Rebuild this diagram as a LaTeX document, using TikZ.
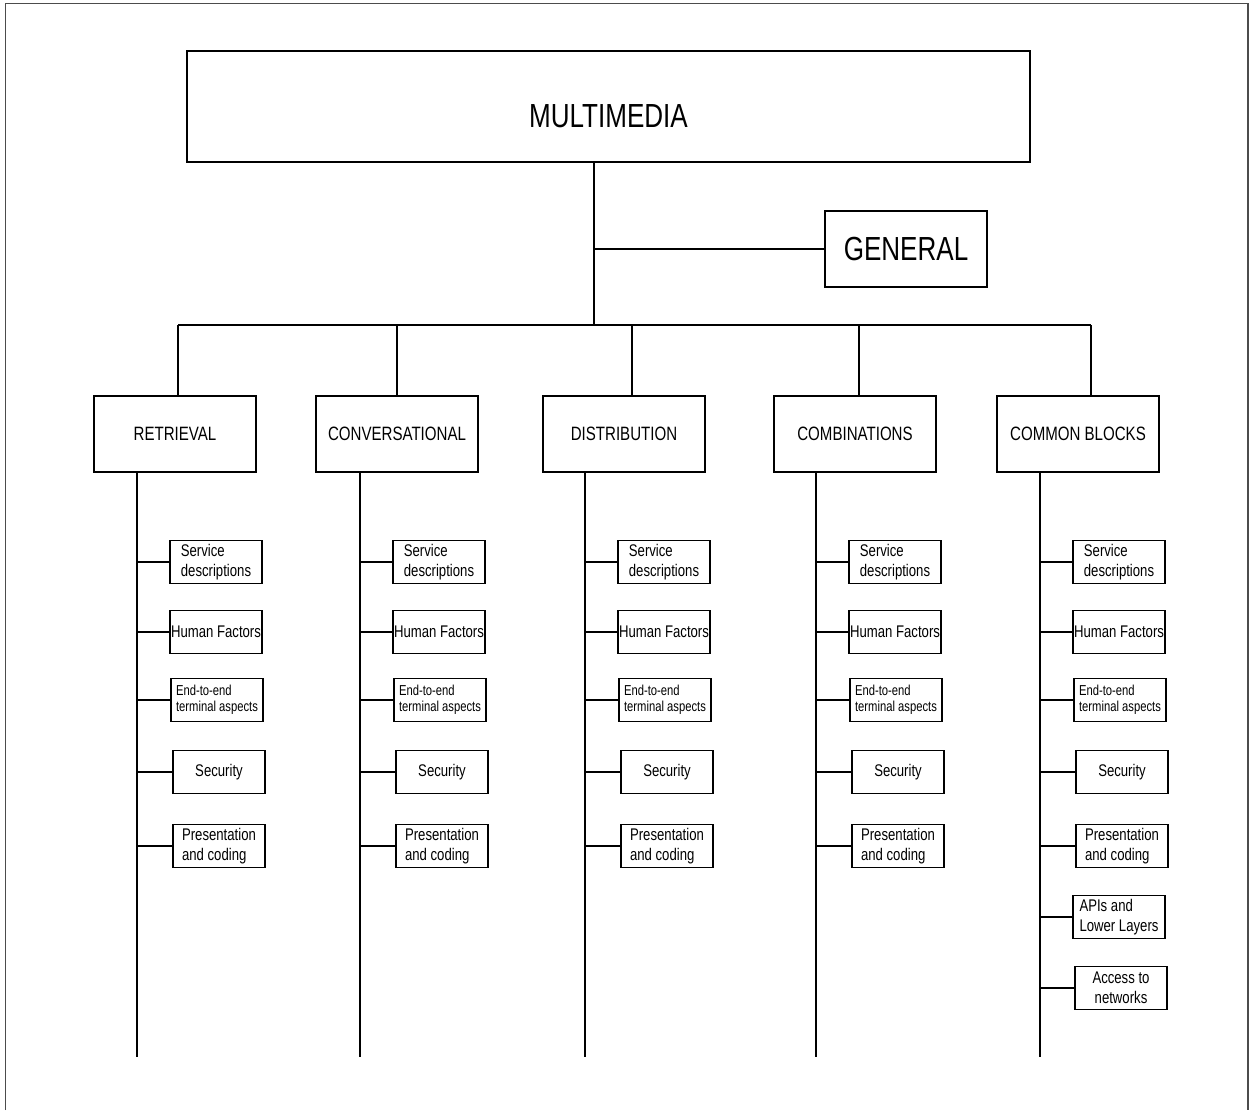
\documentclass[tikz,border=0pt]{standalone}
\usepackage{fontspec}
\setmainfont{Liberation Sans}[FakeStretch=0.78]
\begin{document}
\begin{tikzpicture}[x=0.02cm,y=-0.02cm,line width=0.7pt,
  plainbox/.style={draw,line width=0.9pt,inner sep=0pt,outer sep=0pt},
  topbox/.style={plainbox,minimum width=16.86cm,minimum height=2.22cm,font=\fontsize{19}{22}\selectfont},
  genbox/.style={plainbox,minimum width=3.24cm,minimum height=1.52cm,font=\fontsize{19}{22}\selectfont},
  catbox/.style={plainbox,minimum width=3.24cm,minimum height=1.52cm,font=\fontsize{11}{13}\selectfont},
  subbox/.style={plainbox,minimum width=1.84cm,minimum height=0.86cm,align=left,font=\fontsize{9.6}{11.3}\selectfont},
  subtext/.style={},
  smalltext/.style={font=\fontsize{8.2}{9.1}\selectfont},
  midtext/.style={align=center}]
\useasboundingbox (0,0) rectangle (1253,1110);
\draw[line width=1.1pt,black!70](5.5,1110)--(5.5,3.5)--(1248,3.5)--(1248,1110);
% top of the tree
\node[topbox,text height=24.4pt,text depth=0pt] (mm) at (608.5,106.5) {MULTIMEDIA};
\node[genbox] (gen) at (906,249) {GENERAL};
\coordinate (hub) at (594,325);
\coordinate (busL) at (178,325);
\coordinate (busR) at (1091,325);
\draw (mm.south -| hub)--(hub);
\draw (hub |- gen.west)--(gen.west);
\draw (busL)--(busR);
% the five branches
\foreach \n/\lab/\cx/\d in {ret/RETRIEVAL/175/178, con/CONVERSATIONAL/397/397, dis/DISTRIBUTION/624/632, com/COMBINATIONS/855/859, blk/COMMON BLOCKS/1078/1091}
{
    \node[catbox] (\n) at (\cx,434) {\lab};
    \coordinate (\n-top) at (\d,325);
    \draw (\n-top)--(\n-top |- \n.north);
}
% the boxes under each branch
\foreach \n/\s/\last in {ret/137/5, con/360/5, dis/585/5, com/816/5, blk/1040/7}
{
    \coordinate (\n-end) at (\s,1057);
    \draw (\n-end |- \n.south)--(\n-end);
    \foreach \i/\off/\y/\st/\txt in {1/33/562/subtext/{Service\\descriptions}, 2/33/632/subtext/{Human Factors}, 3/34/700/smalltext/{End-to-end\\terminal aspects}, 4/36/772/subtext/Security, 5/36/846/subtext/{Presentation\\and coding}, 6/33/917/subtext/{APIs and\\Lower Layers}, 7/35/988/midtext/{Access to\\networks}}
    {
        \ifnum\i>\last\relax\else
            \node[subbox,\st] (\n-\i) at (\s+\off+46,\y) {\txt};
            \draw (\n-end |- \n-\i.west)--(\n-\i.west);
        \fi
    }
}
\end{tikzpicture}
\end{document}
